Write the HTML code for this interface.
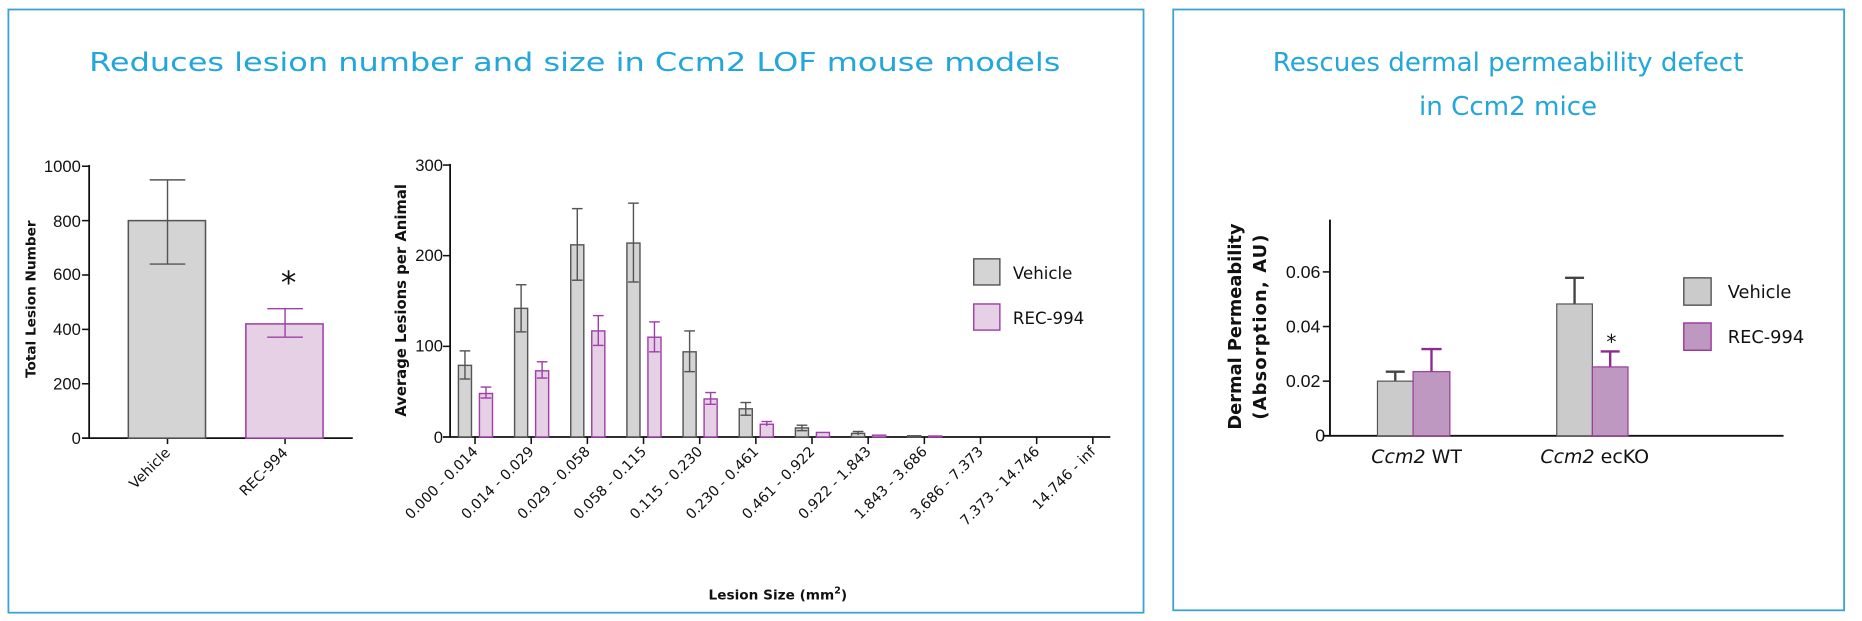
<!DOCTYPE html>
<html><head><meta charset="utf-8"><style>
html,body{margin:0;padding:0;background:#fff;}
svg{display:block;}
text{font-family:"DejaVu Sans","Liberation Sans",sans-serif;}
.n{font-family:"Liberation Sans","DejaVu Sans",sans-serif;}
</style></head><body>
<svg width="1862" height="621" viewBox="0 0 1568 523" xmlns="http://www.w3.org/2000/svg">
<rect x="7" y="8" width="956" height="508" fill="none" stroke="#3aa3d3" stroke-width="1.5"/>
<rect x="988" y="8" width="565" height="506" fill="none" stroke="#3aa3d3" stroke-width="1.5"/>
<text x="484" y="60" text-anchor="middle" font-size="22" fill="#22a6dc" textLength="818" lengthAdjust="spacingAndGlyphs">Reduces lesion number and size in Ccm2 LOF mouse models</text>
<text x="1270" y="60" text-anchor="middle" font-size="22" fill="#22a6dc">Rescues dermal permeability defect</text>
<text x="1270" y="97" text-anchor="middle" font-size="22" fill="#22a6dc">in Ccm2 mice</text>

<!-- Chart 1 -->
<g font-size="13" fill="#111">
<line x1="75" y1="139" x2="75" y2="369" stroke="#111" stroke-width="1.5"/>
<line x1="69" y1="369" x2="297" y2="369" stroke="#111" stroke-width="1.5"/>
<g stroke="#111" stroke-width="1.3">
<line x1="69" y1="140" x2="75" y2="140"/><line x1="69" y1="185.8" x2="75" y2="185.8"/><line x1="69" y1="231.6" x2="75" y2="231.6"/><line x1="69" y1="277.4" x2="75" y2="277.4"/><line x1="69" y1="323.2" x2="75" y2="323.2"/>
<line x1="141" y1="369" x2="141" y2="374"/><line x1="240" y1="369" x2="240" y2="374"/>
</g>
<text class="n" x="68" y="145" text-anchor="end" font-size="14">1000</text>
<text class="n" x="68" y="191" text-anchor="end" font-size="14">800</text>
<text class="n" x="68" y="236" text-anchor="end" font-size="14">600</text>
<text class="n" x="68" y="282" text-anchor="end" font-size="14">400</text>
<text class="n" x="68" y="328" text-anchor="end" font-size="14">200</text>
<text class="n" x="68" y="374" text-anchor="end" font-size="14">0</text>
<text transform="translate(30,252) rotate(-90)" text-anchor="middle" font-size="11.5" font-weight="bold">Total Lesion Number</text>
<rect x="108" y="185.8" width="65" height="183.2" fill="#d4d4d4" stroke="#555" stroke-width="1.3"/>
<g stroke="#555" stroke-width="1.2"><line x1="141" y1="151.5" x2="141" y2="222.4"/><line x1="126" y1="151.5" x2="156" y2="151.5"/><line x1="126" y1="222.4" x2="156" y2="222.4"/></g>
<rect x="207" y="272.8" width="65" height="96.2" fill="#e6d0e6" stroke="#a040a8" stroke-width="1.3"/>
<g stroke="#a040a8" stroke-width="1.2"><line x1="240" y1="260" x2="240" y2="284"/><line x1="225" y1="260" x2="255" y2="260"/><line x1="225" y1="284" x2="255" y2="284"/></g>
<text x="243" y="247" text-anchor="middle" font-size="26">*</text>
<text transform="translate(144,382) rotate(-45)" text-anchor="end" font-size="12">Vehicle</text>
<text transform="translate(243,382) rotate(-45)" text-anchor="end" font-size="12">REC-994</text>
</g>

<!-- Chart 2 -->
<g font-size="13" fill="#111">
<line x1="379" y1="138" x2="379" y2="368" stroke="#111" stroke-width="1.5"/>
<line x1="373" y1="368" x2="935" y2="368" stroke="#111" stroke-width="1.5"/>
<g stroke="#111" stroke-width="1.3">
<line x1="373" y1="139" x2="379" y2="139"/><line x1="373" y1="215.3" x2="379" y2="215.3"/><line x1="373" y1="291.7" x2="379" y2="291.7"/>
</g>
<text class="n" x="373" y="144" text-anchor="end" font-size="14">300</text>
<text class="n" x="373" y="220" text-anchor="end" font-size="14">200</text>
<text class="n" x="373" y="296" text-anchor="end" font-size="14">100</text>
<text class="n" x="373" y="373" text-anchor="end" font-size="14">0</text>
<text transform="translate(342,253) rotate(-90)" text-anchor="middle" font-size="12.5" font-weight="bold">Average Lesions per Animal</text>
<text x="655" y="505" text-anchor="middle" font-size="11.5" font-weight="bold">Lesion Size (mm<tspan font-size="8" dy="-5">2</tspan><tspan dy="5">)</tspan></text>
<rect x="820" y="218" width="22" height="22" fill="#d4d4d4" stroke="#555" stroke-width="1.2"/>
<rect x="820" y="256" width="22" height="22" fill="#e6d0e6" stroke="#a040a8" stroke-width="1.2"/>
<text x="853" y="235" font-size="14">Vehicle</text>
<text x="853" y="273" font-size="14">REC-994</text>
</g>

<!-- Chart 3 -->
<g font-size="14" fill="#111">
<line x1="1120" y1="185" x2="1120" y2="367" stroke="#111" stroke-width="1.6"/>
<line x1="1114" y1="367" x2="1502" y2="367" stroke="#111" stroke-width="1.6"/>
<g stroke="#111" stroke-width="1.3">
<line x1="1114" y1="229" x2="1120" y2="229"/><line x1="1114" y1="275" x2="1120" y2="275"/><line x1="1114" y1="321" x2="1120" y2="321"/>
</g>
<text class="n" x="1112" y="234" text-anchor="end" font-size="15">0.06</text>
<text class="n" x="1112" y="280" text-anchor="end" font-size="15">0.04</text>
<text class="n" x="1112" y="326" text-anchor="end" font-size="15">0.02</text>
<text class="n" x="1116" y="372" text-anchor="end" font-size="15">0</text>
<text transform="translate(1045,275) rotate(-90)" text-anchor="middle" font-size="15" font-weight="bold">Dermal Permeability</text>
<text transform="translate(1066,275) rotate(-90)" text-anchor="middle" font-size="15" font-weight="bold" letter-spacing="1">(Absorption, AU)</text>
<g stroke-width="2" fill="none">
<line x1="1175" y1="321" x2="1175" y2="313" stroke="#444"/><line x1="1167" y1="313" x2="1183" y2="313" stroke="#444"/>
<line x1="1205.5" y1="313" x2="1205.5" y2="294" stroke="#8c2c8c"/><line x1="1197" y1="294" x2="1214" y2="294" stroke="#8c2c8c"/>
<line x1="1326" y1="256" x2="1326" y2="234" stroke="#444"/><line x1="1318" y1="234" x2="1334" y2="234" stroke="#444"/>
<line x1="1356" y1="309" x2="1356" y2="296" stroke="#8c2c8c"/><line x1="1348" y1="296" x2="1364" y2="296" stroke="#8c2c8c"/>
</g>
<rect x="1160" y="321" width="30" height="46" fill="#cbcbcb" stroke="#555" stroke-width="1"/>
<rect x="1190" y="313" width="31" height="54" fill="#bf98c1" stroke="#9a3a9a" stroke-width="1"/>
<rect x="1311" y="256" width="30" height="111" fill="#cbcbcb" stroke="#555" stroke-width="1"/>
<rect x="1341" y="309" width="30" height="58" fill="#bf98c1" stroke="#9a3a9a" stroke-width="1"/>
<text x="1357" y="294" text-anchor="middle" font-size="17">*</text>
<text x="1193" y="390" text-anchor="middle" font-size="16"><tspan font-style="italic">Ccm2</tspan> WT</text>
<text x="1343" y="390" text-anchor="middle" font-size="16"><tspan font-style="italic">Ccm2</tspan> ecKO</text>
<rect x="1418" y="234" width="23" height="23" fill="#cbcbcb" stroke="#555" stroke-width="1.2"/>
<rect x="1418" y="272" width="23" height="23" fill="#bf98c1" stroke="#9a3a9a" stroke-width="1.2"/>
<text x="1455" y="251" font-size="15">Vehicle</text>
<text x="1455" y="289" font-size="15">REC-994</text>
</g>

<g font-size="12" fill="#111" stroke-width="1.2">
<g stroke="#555">
<rect x="386" y="307.7" width="11" height="60.3" fill="#d4d4d4"/>
<rect x="433.3" y="259.7" width="11" height="108.3" fill="#d4d4d4"/>
<rect x="480.6" y="206.2" width="11" height="161.8" fill="#d4d4d4"/>
<rect x="527.9" y="204.7" width="11" height="163.3" fill="#d4d4d4"/>
<rect x="575.2" y="296.3" width="11" height="71.7" fill="#d4d4d4"/>
<rect x="622.5" y="344.3" width="11" height="23.7" fill="#d4d4d4"/>
<rect x="669.8" y="360.4" width="11" height="7.6" fill="#d4d4d4"/>
<rect x="717.1" y="365" width="11" height="3" fill="#d4d4d4"/>
<rect x="764.4" y="367" width="11" height="1" fill="#d4d4d4"/>
<line x1="391.5" y1="295.5" x2="391.5" y2="319.2"/><line x1="387" y1="295.5" x2="396" y2="295.5"/><line x1="387" y1="319.2" x2="396" y2="319.2"/>
<line x1="438.8" y1="239.8" x2="438.8" y2="279.5"/><line x1="434.3" y1="239.8" x2="443.3" y2="239.8"/><line x1="434.3" y1="279.5" x2="443.3" y2="279.5"/>
<line x1="486.1" y1="175.7" x2="486.1" y2="236"/><line x1="481.6" y1="175.7" x2="490.6" y2="175.7"/><line x1="481.6" y1="236" x2="490.6" y2="236"/>
<line x1="533.4" y1="171.1" x2="533.4" y2="237.5"/><line x1="528.9" y1="171.1" x2="537.9" y2="171.1"/><line x1="528.9" y1="237.5" x2="537.9" y2="237.5"/>
<line x1="580.7" y1="278.7" x2="580.7" y2="313"/><line x1="576.2" y1="278.7" x2="585.2" y2="278.7"/><line x1="576.2" y1="313" x2="585.2" y2="313"/>
<line x1="628" y1="339" x2="628" y2="349.7"/><line x1="623.5" y1="339" x2="632.5" y2="339"/><line x1="623.5" y1="349.7" x2="632.5" y2="349.7"/>
<line x1="675.3" y1="358.1" x2="675.3" y2="362.7"/><line x1="670.8" y1="358.1" x2="679.8" y2="358.1"/><line x1="670.8" y1="362.7" x2="679.8" y2="362.7"/>
<line x1="722.6" y1="363.4" x2="722.6" y2="366.5"/><line x1="718.1" y1="363.4" x2="727.1" y2="363.4"/>
</g>
<g stroke="#a040a8">
<rect x="403.7" y="331.4" width="11" height="36.6" fill="#e6d0e6"/>
<rect x="451" y="312.3" width="11" height="55.7" fill="#e6d0e6"/>
<rect x="498.3" y="278.7" width="11" height="89.3" fill="#e6d0e6"/>
<rect x="545.6" y="284" width="11" height="84" fill="#e6d0e6"/>
<rect x="592.9" y="336" width="11" height="32" fill="#e6d0e6"/>
<rect x="640.2" y="357.3" width="11" height="10.7" fill="#e6d0e6"/>
<rect x="687.5" y="364.2" width="11" height="3.8" fill="#e6d0e6"/>
<rect x="734.8" y="366.5" width="11" height="1.5" fill="#e6d0e6"/>
<rect x="782.1" y="367.2" width="11" height="0.8" fill="#e6d0e6"/>
<line x1="409.2" y1="326" x2="409.2" y2="335.2"/><line x1="404.7" y1="326" x2="413.7" y2="326"/><line x1="404.7" y1="335.2" x2="413.7" y2="335.2"/>
<line x1="456.5" y1="304.7" x2="456.5" y2="318.4"/><line x1="452" y1="304.7" x2="461" y2="304.7"/><line x1="452" y1="318.4" x2="461" y2="318.4"/>
<line x1="503.8" y1="265.8" x2="503.8" y2="290.9"/><line x1="499.3" y1="265.8" x2="508.3" y2="265.8"/><line x1="499.3" y1="290.9" x2="508.3" y2="290.9"/>
<line x1="551.1" y1="271.1" x2="551.1" y2="296.3"/><line x1="546.6" y1="271.1" x2="555.6" y2="271.1"/><line x1="546.6" y1="296.3" x2="555.6" y2="296.3"/>
<line x1="598.4" y1="330.6" x2="598.4" y2="340.5"/><line x1="593.9" y1="330.6" x2="602.9" y2="330.6"/><line x1="593.9" y1="340.5" x2="602.9" y2="340.5"/>
<line x1="645.7" y1="355" x2="645.7" y2="358.8"/><line x1="641.2" y1="355" x2="650.2" y2="355"/>
</g>
<g stroke="#111" stroke-width="1.3">
<line x1="400" y1="368" x2="400" y2="374"/><line x1="447.3" y1="368" x2="447.3" y2="374"/><line x1="494.6" y1="368" x2="494.6" y2="374"/><line x1="541.9" y1="368" x2="541.9" y2="374"/><line x1="589.2" y1="368" x2="589.2" y2="374"/><line x1="636.5" y1="368" x2="636.5" y2="374"/><line x1="683.8" y1="368" x2="683.8" y2="374"/><line x1="731.1" y1="368" x2="731.1" y2="374"/><line x1="778.4" y1="368" x2="778.4" y2="374"/><line x1="825.7" y1="368" x2="825.7" y2="374"/><line x1="873" y1="368" x2="873" y2="374"/><line x1="920.3" y1="368" x2="920.3" y2="374"/>
</g>
<text transform="translate(403,381) rotate(-45)" text-anchor="end">0.000 - 0.014</text>
<text transform="translate(450.3,381) rotate(-45)" text-anchor="end">0.014 - 0.029</text>
<text transform="translate(497.6,381) rotate(-45)" text-anchor="end">0.029 - 0.058</text>
<text transform="translate(544.9,381) rotate(-45)" text-anchor="end">0.058 - 0.115</text>
<text transform="translate(592.2,381) rotate(-45)" text-anchor="end">0.115 - 0.230</text>
<text transform="translate(639.5,381) rotate(-45)" text-anchor="end">0.230 - 0.461</text>
<text transform="translate(686.8,381) rotate(-45)" text-anchor="end">0.461 - 0.922</text>
<text transform="translate(734.1,381) rotate(-45)" text-anchor="end">0.922 - 1.843</text>
<text transform="translate(781.4,381) rotate(-45)" text-anchor="end">1.843 - 3.686</text>
<text transform="translate(828.7,381) rotate(-45)" text-anchor="end">3.686 - 7.373</text>
<text transform="translate(876,381) rotate(-45)" text-anchor="end">7.373 - 14.746</text>
<text transform="translate(923.3,381) rotate(-45)" text-anchor="end">14.746 - inf</text>
</g>
</svg>
</body></html>
